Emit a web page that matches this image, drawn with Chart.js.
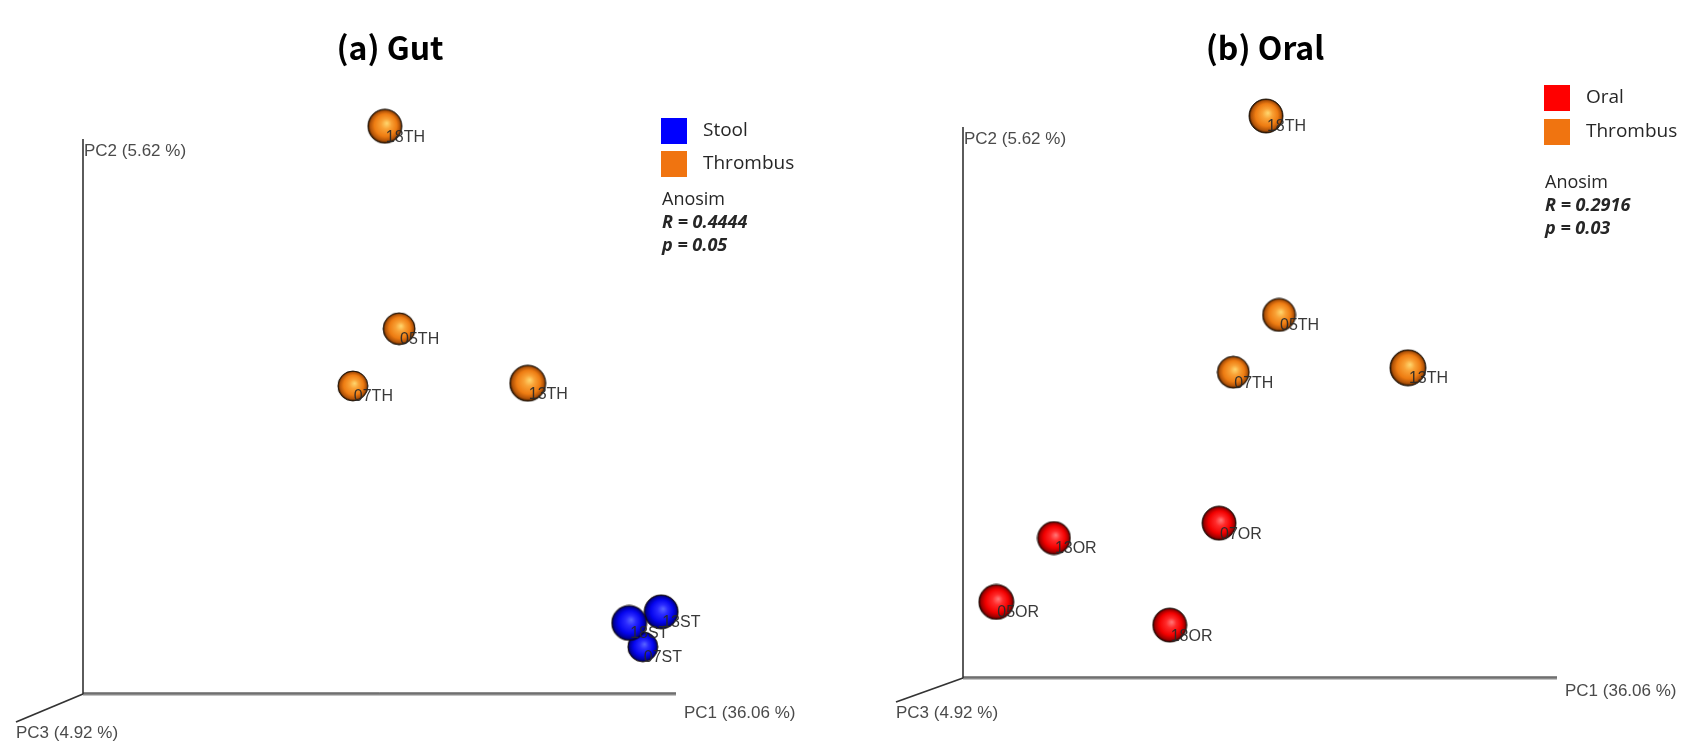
<!DOCTYPE html>
<html>
<head>
<meta charset="utf-8">
<script src="https://cdn.jsdelivr.net/npm/chart.js@4"></script>
<style>
  html, body { margin: 0; padding: 0; background: #ffffff; }
  #wrap { position: relative; width: 1688px; height: 742px; overflow: hidden; }
  .panel { position: absolute; top: 0; width: 844px; height: 742px; }
  #p1 { left: 0; }
  #p2 { left: 844px; }
</style>
</head>
<body>
<div id="wrap">
  <div class="panel" id="p1"><canvas id="c1" width="844" height="742"></canvas></div>
  <div class="panel" id="p2"><canvas id="c2" width="844" height="742"></canvas></div>
</div>
<script>
// ---------------- DATA (PC1/PC2 in axis-relative units) ----------------
const axisNames = ['PC1 (36.06 %)', 'PC2 (5.62 %)', 'PC3 (4.92 %)'];
const panelTitles = ['(a) Gut', '(b) Oral'];

// Panel (a) Gut
const gutThrombusLabels = ['18TH', '05TH', '07TH', '13TH'];
const gutThrombusPC1 = [50.9, 53.3, 45.5, 75.0];
const gutThrombusPC2 = [102.3, 65.8, 55.5, 56.0];
const stoolLabels = ['13ST', '07ST', '18ST'];
const stoolPC1 = [97.5, 94.4, 92.1];
const stoolPC2 = [14.8, 8.5, 12.8];
const gutAnosim = ['Anosim', 'R = 0.4444', 'p = 0.05'];

// Panel (b) Oral
const oralThrombusLabels = ['18TH', '05TH', '07TH', '13TH'];
const oralThrombusPC1 = [51.0, 53.2, 45.5, 74.9];
const oralThrombusPC2 = [102.0, 65.9, 55.5, 56.3];
const oralLabels = ['07OR', '13OR', '05OR', '18OR'];
const oralPC1 = [43.1, 15.3, 5.6, 34.8];
const oralPC2 = [28.1, 25.4, 13.8, 9.6];
const oralAnosim = ['Anosim', 'R = 0.2916', 'p = 0.03'];

// ---------------- STYLES ----------------
const COLORS = {
  Stool:    { legend: '#0000FF', stops: ['#5a66ff', '#2a2aff', '#0505ee', '#00009e', '#000030'] },
  Thrombus: { legend: '#F07410', stops: ['#FFD870', '#F9A236', '#EE7C12', '#B05208', '#221000'] },
  Oral:     { legend: '#FF0000', stops: ['#ff7a7a', '#ff2a2a', '#f20000', '#a00000', '#2a0000'] }
};
const gutThrombusR = [17, 16, 15, 18];
const stoolR = [17, 15, 17.5];
const oralThrombusR = [17, 16.5, 16, 18];
const oralR = [17, 16.5, 17.5, 17];

const sphereCache = {};
function sphere(group, r) {
  const key = group + '_' + r;
  if (sphereCache[key]) return sphereCache[key];
  const s = Math.ceil(r * 2 + 2);
  const cv = document.createElement('canvas');
  cv.width = s; cv.height = s;
  const g = cv.getContext('2d');
  const c = s / 2;
  const st = COLORS[group].stops;
  const grad = g.createRadialGradient(c + 0.12 * r, c - 0.18 * r, 0, c, c, r);
  grad.addColorStop(0, st[0]);
  grad.addColorStop(0.3, st[1]);
  grad.addColorStop(0.66, st[2]);
  grad.addColorStop(0.88, st[3]);
  grad.addColorStop(1, st[4]);
  g.beginPath();
  g.arc(c, c, r, 0, Math.PI * 2);
  g.fillStyle = grad;
  g.fill();
  g.lineWidth = 1;
  g.strokeStyle = 'rgba(20,10,0,0.85)';
  g.stroke();
  sphereCache[key] = cv;
  return cv;
}

function makeDataset(group, labels, xs, ys, radii) {
  return {
    label: group,
    group: group,
    pointLabels: labels,
    data: xs.map((x, i) => ({ x: x, y: ys[i] })),
    pointStyle: (ctx) => sphere(group, radii[ctx.dataIndex] || 16),
    pointRadius: (ctx) => radii[ctx.dataIndex] || 16,
    clip: false
  };
}

const FONT_SANS = '"Liberation Sans", Arial, sans-serif';
const FONT_LEG = '"Open Sans", "Noto Sans", sans-serif';

// plugin: 3D-like axes, labels, titles, legend, anosim text
const decorPlugin = {
  id: 'decor',
  beforeDatasetsDraw(chart) {
    const o = chart.options.plugins.decor;
    const ctx = chart.ctx;
    const xs = chart.scales.x, ys = chart.scales.y;
    const ox = xs.getPixelForValue(0), oy = ys.getPixelForValue(0);
    const ex = xs.getPixelForValue(100), ty = ys.getPixelForValue(100);
    ctx.save();
    // PC1 axis (horizontal, grey, thicker)
    ctx.strokeStyle = '#8a8a8a';
    ctx.lineWidth = 3;
    ctx.beginPath(); ctx.moveTo(ox, oy); ctx.lineTo(ex, oy); ctx.stroke();
    ctx.strokeStyle = '#555555';
    ctx.lineWidth = 1;
    ctx.beginPath(); ctx.moveTo(ox, oy - 1); ctx.lineTo(ex, oy - 1); ctx.stroke();
    // PC2 axis (vertical)
    ctx.strokeStyle = '#333333';
    ctx.lineWidth = 1.6;
    ctx.beginPath(); ctx.moveTo(ox, oy); ctx.lineTo(ox, ty); ctx.stroke();
    // PC3 axis (diagonal)
    ctx.lineWidth = 1.8;
    ctx.beginPath(); ctx.moveTo(ox, oy); ctx.lineTo(ox + o.pc3dx, oy + o.pc3dy); ctx.stroke();
    // axis labels
    ctx.fillStyle = '#4a4a4a';
    ctx.font = '17px ' + FONT_SANS;
    ctx.textBaseline = 'middle';
    ctx.textAlign = 'left';
    ctx.fillText(axisNames[1], ox + 1, ty + 12);
    ctx.fillText(axisNames[0], ex + 8, oy + o.pc1dy);
    ctx.fillText(axisNames[2], ox + o.pc3dx, oy + o.pc3dy + 11);
    // title
    ctx.fillStyle = '#000000';
    ctx.font = 'bold 32px "Noto Sans CJK KR", "Noto Sans", sans-serif';
    ctx.textAlign = 'center';
    ctx.fillText(o.title, o.titleX, o.titleY);
    // legend
    ctx.textAlign = 'left';
    o.legend.forEach((g, i) => {
      const y = o.legY + i * o.legStep;
      ctx.fillStyle = COLORS[g].legend;
      ctx.fillRect(o.legX, y, 26, 26);
      ctx.fillStyle = '#262626';
      ctx.font = '19px ' + FONT_LEG;
      ctx.fillText(g, o.legX + 42, y + 13);
    });
    // anosim
    ctx.fillStyle = '#262626';
    ctx.font = '18px ' + FONT_LEG;
    ctx.fillText(o.anosim[0], o.legX + 1, o.anoY);
    ctx.font = 'italic bold 18px ' + FONT_LEG;
    ctx.fillText(o.anosim[1], o.legX + 1, o.anoY + 23);
    ctx.fillText(o.anosim[2], o.legX + 1, o.anoY + 46);
    ctx.restore();
  },
  afterDatasetsDraw(chart) {
    const ctx = chart.ctx;
    ctx.save();
    ctx.fillStyle = 'rgba(40,40,40,0.92)';
    ctx.font = '16px ' + FONT_SANS;
    ctx.textBaseline = 'middle';
    ctx.textAlign = 'left';
    chart.data.datasets.forEach((ds, di) => {
      const meta = chart.getDatasetMeta(di);
      meta.data.forEach((el, i) => {
        ctx.fillText(ds.pointLabels[i], el.x + 1, el.y + 11);
      });
    });
    ctx.restore();
  }
};

function makeChart(id, datasets, padding, decor) {
  return new Chart(document.getElementById(id), {
    type: 'scatter',
    data: { datasets: datasets },
    plugins: [decorPlugin],
    options: {
      responsive: false,
      animation: false,
      events: [],
      layout: { padding: padding },
      scales: {
        x: { type: 'linear', min: 0, max: 100, display: false },
        y: { type: 'linear', min: 0, max: 100, display: false }
      },
      plugins: {
        legend: { display: false },
        tooltip: { enabled: false },
        decor: decor
      }
    }
  });
}

makeChart('c1', [
  makeDataset('Thrombus', gutThrombusLabels, gutThrombusPC1, gutThrombusPC2, gutThrombusR),
  makeDataset('Stool', stoolLabels, stoolPC1, stoolPC2, stoolR)
], { left: 83, right: 168, top: 139, bottom: 48 }, {
  title: panelTitles[0], titleX: 390, titleY: 48,
  pc3dx: -67, pc3dy: 28, pc1dy: 19,
  legend: ['Stool', 'Thrombus'], legX: 661, legY: 118, legStep: 33,
  anosim: gutAnosim, anoY: 200
});

makeChart('c2', [
  makeDataset('Thrombus', oralThrombusLabels, oralThrombusPC1, oralThrombusPC2, oralThrombusR),
  makeDataset('Oral', oralLabels, oralPC1, oralPC2, oralR)
], { left: 119, right: 131, top: 127, bottom: 64 }, {
  title: panelTitles[1], titleX: 421, titleY: 48,
  pc3dx: -67, pc3dy: 24, pc1dy: 13,
  legend: ['Oral', 'Thrombus'], legX: 700, legY: 85, legStep: 34,
  anosim: oralAnosim, anoY: 183
});
</script>
</body>
</html>
